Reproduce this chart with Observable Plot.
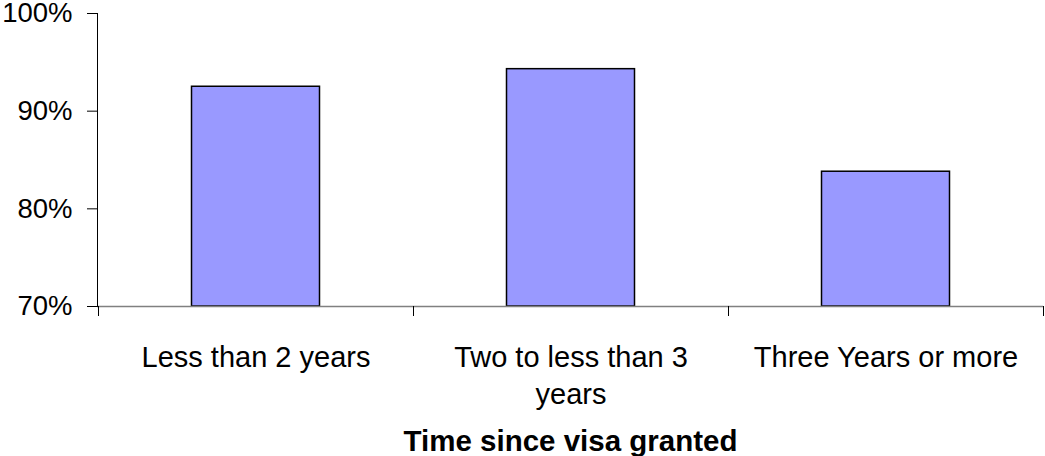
<!DOCTYPE html>
<html>
<head>
<meta charset="utf-8">
<script src="https://cdn.jsdelivr.net/npm/d3@7"></script>
<script src="https://cdn.jsdelivr.net/npm/@observablehq/plot@0.6"></script>
<style>
  html, body { margin: 0; padding: 0; background: #fff; }
</style>
</head>
<body>
<div id="chart"></div>
<script>
// Share by time since the visa was granted
const categories = ["Less than 2 years", "Two to less than 3 years", "Three Years or more"];
const shares = [92.5, 94.3, 83.8];
const yTicks = [70, 80, 90, 100];
const xTitle = "Time since visa granted";

const rows = categories.map((category, i) => ({category, share: shares[i]}));

// Tick marks on the band boundaries of the category axis
function bandEdgeTicks(index, scales, values, dimensions) {
  const x = scales.x;
  const step = typeof x.step === "function" ? x.step()
    : (dimensions.width - dimensions.marginLeft - dimensions.marginRight) / categories.length;
  const edges = categories.map((c) => x(c));
  edges.push(x(categories[categories.length - 1]) + step);
  const y0 = dimensions.height - dimensions.marginBottom;
  const g = d3.create("svg:g").attr("stroke", "#000").attr("stroke-width", 1);
  g.selectAll("line")
    .data(edges)
    .join("line")
    .attr("x1", (d) => Math.round(d) + 0.5)
    .attr("x2", (d) => Math.round(d) + 0.5)
    .attr("y1", y0)
    .attr("y2", y0 + 10);
  return g.node();
}

const chart = Plot.plot({
  width: 1045,
  height: 456,
  marginTop: 13,
  marginBottom: 150,
  marginLeft: 97,
  marginRight: 2,
  style: {fontFamily: "'Liberation Sans', Arial, sans-serif", color: "#000", background: "#fff"},
  x: {domain: categories, padding: 0, axis: null},
  y: {domain: [70, 100], axis: null},
  marks: [
    Plot.barY(rows, {
      x: "category",
      y1: 70,
      y2: "share",
      fill: "#9999ff",
      stroke: "#000",
      strokeWidth: 1.5,
      insetLeft: 93.5,
      insetRight: 93.5
    }),
    Plot.ruleY([70], {stroke: "#808080", strokeWidth: 1.5}),
    Plot.frame({anchor: "left", stroke: "#000"}),
    Plot.axisY({
      ticks: yTicks,
      tickFormat: (d) => d + "%",
      tickSize: 10,
      tickPadding: 15,
      fontSize: 27.5,
      color: "#000",
      label: null
    }),
    Plot.axisX({
      tickSize: 0,
      tickPadding: 35,
      fontSize: 29,
      lineWidth: 10,
      lineHeight: 1.26,
      color: "#000",
      label: null
    }),
    bandEdgeTicks,
    Plot.text([xTitle], {
      frameAnchor: "bottom",
      lineAnchor: "bottom",
      dy: 144,
      fontSize: 29.5,
      fontWeight: "bold",
      fill: "#000"
    })
  ]
});

document.getElementById("chart").appendChild(chart);
</script>
</body>
</html>
